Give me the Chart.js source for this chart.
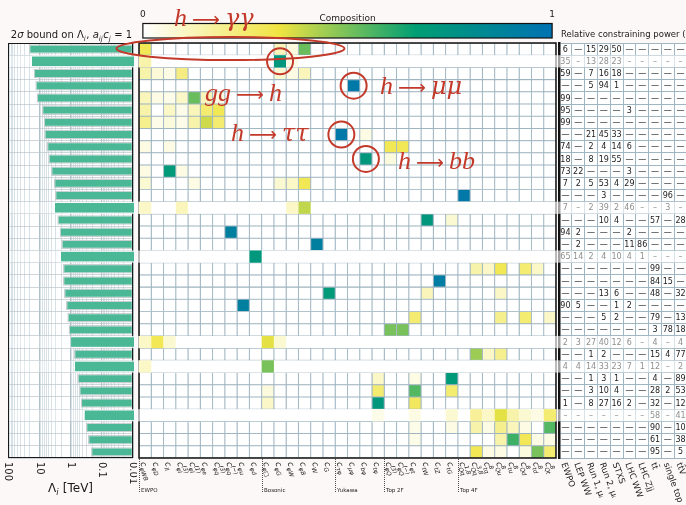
<!DOCTYPE html>
<html>
<head>
<meta charset="utf-8">
<title>Principal directions: bounds, composition and constraining power</title>
<script src="https://cdn.jsdelivr.net/npm/chart.js@4.4.1/dist/chart.umd.min.js"></script>
<style>
  html, body { margin: 0; padding: 0; background: #fcf8f7; }
  #fig { position: relative; width: 686px; height: 505px; overflow: hidden; background: #fcf8f7; }
  #fig canvas { position: absolute; top: 0; }
  #notes { position: absolute; left: 0; top: 0; pointer-events: none; }
</style>
</head>
<body>
<div id="fig">
  <canvas id="bounds" width="137" height="505" style="left:0"></canvas>
  <canvas id="heat" width="421" height="505" style="left:137px"></canvas>
  <canvas id="cbar" width="421" height="42" style="left:137px"></canvas>
  <canvas id="power" width="140" height="505" style="left:558px"></canvas>
  <svg id="notes" width="686" height="505"></svg>
</div>
<script>
// ---------------- data ----------------
// eigen-directions, ordered from best to least constrained
const directions = ['d1','d2','d3','d4','d5','d6','d7','d8','d9','d10','d11','d12','d13','d14','d15','d16','d17',
  'd18','d19','d20','d21','d22','d23','d24','d25','d26','d27','d28','d29','d30','d31','d32','d33','d34'];

// 2-sigma bound on Lambda_i in TeV
const lambdaBounds = [21.3, 17.1, 15.1, 13.3, 12.1, 8.2, 7.2, 6.9, 5.65, 5.1, 4.2, 3.37, 3.13, 3.13,
  2.64, 2.22, 1.96, 2.01, 1.74, 1.74, 1.61, 1.39, 1.26, 1.15, 0.96, 0.77, 0.72, 0.60, 0.53, 0.47,
  0.35, 0.32, 0.275, 0.22];

// Wilson coefficients on the horizontal axis: subscript and superscript of c
const opSub = ['φWB','φD','ll','φl','φl','φe','φq','φq','φu','φd',
  'φ□','φG','φW','φB','W','G',
  'τφ','μφ','bφ','tφ',
  'φQ','φQ','φt','tW','tZ','tG',
  'Qq','Qq','tq','Qu','tu','Qd','td','Qt'];
const opSup = ['','','','(3)','(1)','','(3)','(−)','','',
  '','','','','','',
  '','','','',
  '(3)','(−)','','','','',
  '1,8','3,8','8','8','8','8','8','8'];

const groupNames = ['EWPO','Bosonic','Yukawa','Top 2F','Top 4F'];
const groupStarts = [0, 10, 16, 20, 26];

// composition of each direction (column index -> weight), empty cells are zero
const compositionRows = [
  {0:.30, 11:.12, 12:.06, 13:.52},
  {0:.15, 11:.72, 12:.05},
  {0:.15, 1:.07, 2:.05, 3:.22, 11:.08, 12:.05, 13:.12},
  {17:.95},
  {0:.12, 1:.05, 2:.04, 3:.10, 4:.52, 5:.12, 6:.05},
  {0:.15, 2:.10, 3:.04, 4:.12, 5:.25, 6:.30},
  {0:.20, 1:.04, 2:.06, 3:.04, 4:.15, 5:.38, 6:.25},
  {16:.95, 18:.05},
  {0:.05, 2:.05, 20:.30, 21:.30},
  {18:.72, 20:.06},
  {0:.05, 2:.70, 3:.05},
  {0:.08, 4:.05, 11:.08, 12:.10, 13:.30},
  {26:.95},
  {0:.10, 3:.12, 12:.10, 13:.40},
  {23:.72, 25:.08},
  {7:.90},
  {14:.90},
  {9:.72},
  {27:.15, 28:.10, 29:.30, 31:.25, 32:.10},
  {24:.92},
  {15:.70, 23:.12, 29:.10},
  {8:.90},
  {22:.25, 29:.20, 31:.25, 33:.10},
  {20:.50, 21:.50},
  {0:.10, 1:.30, 2:.08, 10:.35, 11:.08},
  {27:.45, 28:.10, 29:.20},
  {0:.10, 10:.50},
  {19:.10, 22:.05, 25:.70},
  {10:.06, 19:.25, 22:.55, 25:.25},
  {10:.10, 19:.72, 22:.28},
  {19:.04, 22:.05, 25:.08, 27:.18, 28:.10, 29:.35, 30:.15, 31:.08, 32:.05, 33:.25},
  {22:.04, 25:.05, 27:.15, 28:.05, 29:.20, 30:.12, 31:.05, 33:.55},
  {22:.04, 29:.15, 30:.58, 31:.30, 32:.05, 33:.05},
  {27:.30, 28:.05, 29:.05, 31:.06, 32:.50, 33:.25}
];

// datasets and their relative constraining power (%), null = no contribution
const sources = ['EWPO','LEP WW','Run 1, μᵢ','Run 2, μᵢ','STXS','LHC WW','LHC Zjj','tt̄','single top','tt̄V'];
const powerTable = [
  [6,null,15,29,50,null,null,null,null,null],
  [35,null,13,28,23,null,null,null,null,null],
  [59,null,7,16,18,null,null,null,null,null],
  [null,null,5,94,1,null,null,null,null,null],
  [99,null,null,null,null,null,null,null,null,null],
  [95,null,null,null,null,3,null,null,null,null],
  [99,null,null,null,null,null,null,null,null,null],
  [null,null,21,45,33,null,null,null,null,null],
  [74,null,2,4,14,6,null,null,null,null],
  [18,null,8,19,55,null,null,null,null,null],
  [73,22,null,null,null,3,null,null,null,null],
  [7,2,5,53,4,29,null,null,null,null],
  [null,null,null,3,null,null,null,null,96,null],
  [7,null,2,39,2,46,null,null,3,null],
  [null,null,null,10,4,null,null,57,null,28],
  [94,2,null,null,null,2,null,null,null,null],
  [null,2,null,null,null,11,86,null,null,null],
  [65,14,2,4,10,4,1,null,null,null],
  [null,null,null,null,null,null,null,99,null,null],
  [null,null,null,null,null,null,null,84,15,null],
  [null,null,null,13,6,null,null,48,null,32],
  [90,5,null,null,1,2,null,null,null,null],
  [null,null,null,5,2,null,null,79,null,13],
  [null,null,null,null,null,null,null,3,78,18],
  [2,3,27,40,12,6,null,4,null,4],
  [null,null,1,2,null,null,null,15,4,77],
  [4,4,14,33,23,7,1,12,null,2],
  [null,null,1,3,1,null,null,4,null,89],
  [null,null,3,10,4,null,null,28,2,53],
  [1,null,8,27,16,2,null,32,null,12],
  [null,null,null,null,null,null,null,58,null,41],
  [null,null,null,null,null,null,null,90,null,10],
  [null,null,null,null,null,null,null,61,null,38],
  [null,null,null,null,null,null,null,95,null,5]
];

// directions drawn on a lifted, borderless band
const liftedRows = [1, 13, 17, 24, 26, 30];

// ---------------- style ----------------
const FONT = "'DejaVu Sans', sans-serif";
const CELL_EDGE = '#9fb5c1';
const BAR_FILL = '#4ab894';
const ANNOT = '#c33a2b';
const BAND = 'rgba(255,255,255,0.62)';
const STOPS = [[0, [255,255,255]], [1/3, [240,228,66]], [2/3, [0,158,115]], [1, [0,114,178]]];

Chart.defaults.font.family = FONT;
Chart.defaults.animation = false;

function cmap(v) {
  v = Math.max(0, Math.min(1, v));
  for (let i = 1; i < STOPS.length; i++) {
    if (v <= STOPS[i][0]) {
      const [t0, c0] = STOPS[i-1], [t1, c1] = STOPS[i];
      const f = (v - t0) / (t1 - t0);
      const c = c0.map((a, k) => Math.round(a + (c1[k] - a) * f));
      return `rgb(${c[0]},${c[1]},${c[2]})`;
    }
  }
  return 'rgb(0,114,178)';
}
const compAt = (r, c) => compositionRows[r][c] || 0;
const isLifted = r => liftedRows.includes(r);

// text with sub/superscripts: segs = [{t}, {sub, sup}]
function drawRich(ctx, segs, x, y, size, opts = {}) {
  const small = size * 0.7;
  const fontOf = (s, it) => `${it ? 'italic ' : ''}${s}px ${FONT}`;
  const widths = segs.map(s => {
    if (s.sub !== undefined || s.sup !== undefined) {
      ctx.font = fontOf(small, s.it);
      return Math.max(s.sub ? ctx.measureText(s.sub).width : 0, s.sup ? ctx.measureText(s.sup).width : 0) + 0.5;
    }
    ctx.font = fontOf(size, s.it);
    return ctx.measureText(s.t).width;
  });
  const total = widths.reduce((a, b) => a + b, 0);
  let cx = opts.align === 'center' ? x - total / 2 : x;
  ctx.textAlign = 'left';
  ctx.textBaseline = 'alphabetic';
  segs.forEach((s, i) => {
    if (s.sub !== undefined || s.sup !== undefined) {
      ctx.font = fontOf(small, s.it);
      if (s.sub) ctx.fillText(s.sub, cx, y + size * 0.28);
      if (s.sup) ctx.fillText(s.sup, cx, y - size * 0.42);
    } else {
      ctx.font = fontOf(size, s.it);
      ctx.fillText(s.t, cx, y);
    }
    cx += widths[i];
  });
}

function rowBand(chart, r) {
  const ys = chart.scales.y;
  const h = (ys.bottom - ys.top) / directions.length;
  const yc = ys.getPixelForValue(r);
  return [yc - h / 2, h];
}

const whiteArea = {
  id: 'whiteArea',
  beforeDraw(chart) {
    const {ctx, chartArea: a} = chart;
    ctx.save(); ctx.fillStyle = '#ffffff';
    ctx.fillRect(a.left, a.top, a.right - a.left, a.bottom - a.top);
    ctx.restore();
  }
};

// ---------------- left: bounds on Lambda ----------------
const logGrid = [];
[0.01, 0.1, 1, 10].forEach(d => { for (let m = 1; m < 10; m++) logGrid.push(+(m * d).toPrecision(3)); });
logGrid.push(100);
const isDecade = v => Math.abs(Math.log10(v) - Math.round(Math.log10(v))) < 1e-6;
const decadeTicks = [100, 10, 1, 0.1, 0.01];

const boundsDeco = {
  id: 'boundsDeco',
  afterDraw(chart) {
    const {ctx, chartArea: a, scales: {x: xs}} = chart;
    ctx.save();
    ctx.strokeStyle = '#1a1a1a'; ctx.lineWidth = 1;
    ctx.strokeRect(a.left + 0.5, a.top + 0.5, a.right - a.left - 1, a.bottom - a.top - 1);
    // lifted rows: bar runs through the frame into the gap
    liftedRows.forEach(r => {
      const [y0, h] = rowBand(chart, r);
      const bh = h * 0.78;
      const x0 = xs.getPixelForValue(lambdaBounds[r]);
      ctx.fillStyle = 'rgba(255,255,255,0.3)';
      ctx.fillRect(a.left + 1, y0, x0 - a.left - 1, h);
      ctx.fillStyle = 'rgba(250,250,250,0.85)';
      ctx.fillRect(x0, y0, chart.width - x0, h);
      ctx.fillStyle = BAR_FILL;
      ctx.fillRect(x0, y0 + (h - bh) / 2, a.right + 1 - x0, bh);
    });
    // decade labels, rotated clockwise
    ctx.fillStyle = '#222';
    ctx.font = `10px ${FONT}`;
    decadeTicks.forEach(v => {
      ctx.save();
      ctx.translate(xs.getPixelForValue(v), a.bottom + 4);
      ctx.rotate(Math.PI / 2);
      ctx.textAlign = 'left'; ctx.textBaseline = 'middle';
      ctx.fillText(String(v), 0, 0);
      ctx.restore();
    });
    ctx.fillStyle = '#1a1a1a';
    drawRich(ctx, [{t:'Λ'}, {sub:'i', it:true}, {t:' [TeV]'}], (a.left + a.right) / 2, 492, 12, {align:'center'});
    drawRich(ctx, [{t:'2'}, {t:'σ', it:true}, {t:' bound on Λ'}, {sub:'i', it:true}, {t:', '},
      {t:'a', it:true}, {sub:'ij', it:true}, {t:'c', it:true}, {sub:'j', it:true}, {t:' = 1'}],
      (a.left + a.right) / 2 + 1, 38, 10, {align:'center'});
    ctx.restore();
  }
};

new Chart(document.getElementById('bounds'), {
  type: 'bar',
  data: { labels: directions, datasets: [{
    data: lambdaBounds, backgroundColor: BAR_FILL, borderColor: '#c7cfd1', borderWidth: 1.3,
    borderSkipped: false, barPercentage: 0.78, categoryPercentage: 1 }] },
  options: {
    indexAxis: 'y', responsive: false, devicePixelRatio: 1,
    layout: { padding: { left: 8, right: 4, top: 43, bottom: 47 } },
    plugins: { legend: { display: false }, tooltip: { enabled: false } },
    scales: {
      x: { type: 'logarithmic', reverse: true, min: 0.01, max: 100,
        afterBuildTicks: s => { s.ticks = logGrid.map(v => ({ value: v })); },
        ticks: { display: false },
        grid: { drawTicks: false, lineWidth: 1,
          color: c => isDecade(c.tick.value) ? 'rgba(110,140,155,0.55)' : 'rgba(150,176,190,0.38)' },
        border: { display: false } },
      y: { ticks: { display: false },
        grid: { drawTicks: false, offset: true, color: 'rgba(185,196,202,0.7)' },
        border: { display: false } }
    }
  },
  plugins: [whiteArea, boundsDeco]
});

// ---------------- middle: composition heat map ----------------
const heatDeco = {
  id: 'heatDeco',
  afterDraw(chart) {
    const {ctx, chartArea: a, scales: {x: xs, y: ys}} = chart;
    ctx.save();
    ctx.strokeStyle = '#111'; ctx.lineWidth = 1.5;
    ctx.strokeRect(a.left, a.top, a.right - a.left, a.bottom - a.top);
    liftedRows.forEach(r => {
      const [y0, h] = rowBand(chart, r);
      ctx.fillStyle = BAND;
      ctx.fillRect(0, y0, chart.width, h);
      opSub.forEach((_, c) => {
        const v = compAt(r, c);
        if (v <= 0) return;
        const x0 = xs.getPixelForValue(c), x1 = xs.getPixelForValue(c + 1);
        ctx.fillStyle = cmap(v);
        ctx.fillRect(x0, y0, x1 - x0, h);
      });
    });
    // column labels
    ctx.fillStyle = '#1a1a1a';
    opSub.forEach((sub, c) => {
      ctx.save();
      ctx.translate(xs.getPixelForValue(c + 0.5) - 2, a.bottom + 4);
      ctx.rotate(70 * Math.PI / 180);
      drawRich(ctx, [{t:'c', it:true}, {sub: sub, sup: opSup[c], it:true}], 0, 3, 8.5);
      ctx.restore();
    });
    // operator groups
    ctx.strokeStyle = '#222'; ctx.lineWidth = 0.8; ctx.setLineDash([1, 1]);
    groupStarts.forEach((g, i) => {
      const x = Math.round(xs.getPixelForValue(g)) + 0.5;
      ctx.beginPath(); ctx.moveTo(x, a.bottom + 1); ctx.lineTo(x, a.bottom + 35); ctx.stroke();
      ctx.fillStyle = '#222'; ctx.font = `5.5px ${FONT}`;
      ctx.textAlign = 'left'; ctx.textBaseline = 'alphabetic';
      ctx.fillText(groupNames[i], x + 1.5, a.bottom + 34);
    });
    ctx.restore();
  }
};

const heatChart = new Chart(document.getElementById('heat'), {
  type: 'bar',
  data: {
    labels: directions,
    datasets: opSub.map((sub, c) => ({
      label: 'c' + sub + opSup[c],
      data: directions.map(() => [c, c + 1]),
      backgroundColor: ctx => cmap(compAt(ctx.dataIndex, c)),
      borderColor: ctx => isLifted(ctx.dataIndex) ? 'rgba(0,0,0,0)' : CELL_EDGE,
      borderWidth: 0.85, borderSkipped: false,
      barPercentage: 1, categoryPercentage: 1, grouped: false
    }))
  },
  options: {
    indexAxis: 'y', responsive: false, devicePixelRatio: 1,
    layout: { padding: { left: 2, right: 2, top: 43, bottom: 47 } },
    plugins: { legend: { display: false }, tooltip: { enabled: false } },
    scales: {
      x: { type: 'linear', min: 0, max: opSub.length, display: false },
      y: { display: false }
    }
  },
  plugins: [whiteArea, heatDeco]
});

// ---------------- colour bar ----------------
const cbarDeco = {
  id: 'cbarDeco',
  afterDraw(chart) {
    const {ctx, chartArea: a} = chart;
    ctx.save();
    ctx.strokeStyle = '#111'; ctx.lineWidth = 1.2;
    ctx.strokeRect(a.left, a.top, a.right - a.left, a.bottom - a.top);
    ctx.fillStyle = '#222'; ctx.font = `9px ${FONT}`;
    ctx.textAlign = 'center'; ctx.textBaseline = 'middle';
    ctx.fillText('Composition', (a.left + a.right) / 2, 19);
    ctx.restore();
  }
};
new Chart(document.getElementById('cbar'), {
  type: 'bar',
  data: { labels: ['composition'], datasets: [{
    data: [[0, 1]],
    backgroundColor: ctx => {
      const {chart} = ctx, a = chart.chartArea;
      if (!a) return '#ffffff';
      const g = chart.ctx.createLinearGradient(a.left, 0, a.right, 0);
      STOPS.forEach(([t, c]) => g.addColorStop(t, `rgb(${c[0]},${c[1]},${c[2]})`));
      return g;
    },
    borderWidth: 0, barPercentage: 1, categoryPercentage: 1 }] },
  options: {
    indexAxis: 'y', responsive: false, devicePixelRatio: 1,
    layout: { padding: { left: 2, right: 2, top: 9, bottom: 4 } },
    plugins: { legend: { display: false }, tooltip: { enabled: false } },
    scales: {
      x: { type: 'linear', position: 'top', min: 0, max: 1,
        afterBuildTicks: s => { s.ticks = [{ value: 0 }, { value: 1 }]; },
        ticks: { font: { size: 9 }, color: '#222', padding: 3, maxRotation: 0, autoSkip: false },
        grid: { display: false, drawTicks: false }, border: { display: false } },
      y: { display: false }
    }
  },
  plugins: [cbarDeco]
});

// ---------------- right: relative constraining power ----------------
const powerDeco = {
  id: 'powerDeco',
  afterDraw(chart) {
    const {ctx, chartArea: a, scales: {x: xs, y: ys}} = chart;
    ctx.save();
    liftedRows.forEach(r => {
      const [y0, h] = rowBand(chart, r);
      ctx.fillStyle = BAND;
      ctx.fillRect(0, y0, chart.width, h);
    });
    ctx.font = `8px ${FONT}`;
    ctx.textAlign = 'center'; ctx.textBaseline = 'middle';
    powerTable.forEach((row, r) => {
      const lifted = isLifted(r);
      ctx.fillStyle = lifted ? '#8f8f8f' : '#222';
      row.forEach((v, c) => {
        const txt = v === null ? (lifted ? '–' : '—') : String(v);
        ctx.fillText(txt, xs.getPixelForValue(c), ys.getPixelForValue(r) + 0.5);
      });
    });
    ctx.fillStyle = '#1a1a1a';
    ctx.font = `8.5px ${FONT}`; ctx.textAlign = 'left'; ctx.textBaseline = 'alphabetic';
    ctx.fillText('Relative constraining power (%)', 3, 37);
    ctx.font = `8.5px ${FONT}`;
    sources.forEach((s, c) => {
      ctx.save();
      ctx.translate(xs.getPixelForValue(c) - 2, a.bottom + 5);
      ctx.rotate(70 * Math.PI / 180);
      ctx.textAlign = 'left'; ctx.textBaseline = 'middle';
      ctx.fillText(s, 0, 0);
      ctx.restore();
    });
    ctx.restore();
  }
};
new Chart(document.getElementById('power'), {
  type: 'bar',
  data: { labels: directions, datasets: [] },
  options: {
    indexAxis: 'y', responsive: false, devicePixelRatio: 1,
    layout: { padding: { left: 1, right: 11, top: 43, bottom: 47 } },
    plugins: { legend: { display: false }, tooltip: { enabled: false } },
    scales: {
      x: { type: 'category', labels: sources, offset: true, ticks: { display: false },
        grid: { offset: true, drawTicks: false, color: CELL_EDGE, lineWidth: 1 }, border: { display: false } },
      y: { type: 'category', labels: directions, offset: true, ticks: { display: false },
        grid: { offset: true, drawTicks: false, color: CELL_EDGE, lineWidth: 1 },
        border: { display: true, color: '#111', width: 2.5 } }
    }
  },
  plugins: [whiteArea, powerDeco]
});

// ---------------- annotations ----------------
(function annotate() {
  const svg = document.getElementById('notes');
  const NS = 'http://www.w3.org/2000/svg';
  const xs = heatChart.scales.x, ys = heatChart.scales.y;
  const left = 137;
  const cell = (r, c) => [left + xs.getPixelForValue(c + 0.5), ys.getPixelForValue(r)];
  const add = (tag, attrs, text) => {
    const el = document.createElementNS(NS, tag);
    Object.entries(attrs).forEach(([k, v]) => el.setAttribute(k, v));
    if (text) el.textContent = text;
    svg.appendChild(el);
    return el;
  };
  const [ex, ey] = cell(0, 7);
  add('ellipse', { cx: ex - 0.5, cy: ey - 0.5, rx: 114, ry: 11.5, fill: 'none', stroke: ANNOT, 'stroke-width': 2 });
  [[1, 11], [3, 17], [7, 16], [9, 18]].forEach(([r, c]) => {
    const [cx, cy] = cell(r, c);
    add('circle', { cx, cy, r: 13, fill: 'none', stroke: ANNOT, 'stroke-width': 2 });
  });
  // decay labels: initial state, arrow, final state
  const famOf = s => /[\u0370-\u03ff]/.test(s) ? 'DejaVu Serif, serif' : 'Liberation Serif, serif';
  const span = (txt, attrs) => {
    const el = document.createElementNS(NS, 'tspan');
    Object.entries(attrs).forEach(([k, v]) => el.setAttribute(k, v));
    el.textContent = txt;
    return el;
  };
  const label = (x, y, a, b) => {
    const t = add('text', { x, y, fill: ANNOT, 'font-style': 'italic', 'font-size': 26 });
    t.append(
      span(a, { 'font-family': famOf(a) }),
      span('⟶', { dx: 5, 'font-style': 'normal', 'font-family': 'DejaVu Sans, sans-serif', 'font-size': 19.5 }),
      span(b, { dx: 5, 'font-family': famOf(b), 'font-size': /[\u0370-\u03ff]/.test(b) ? 24 : 26 })
    );
  };
  label(174, 26, 'h', 'γγ');
  label(205, 101, 'gg', 'h');
  label(380, 94, 'h', 'μμ');
  label(231, 141, 'h', 'ττ');
  label(398, 169, 'h', 'bb');
})();
</script>
</body>
</html>
